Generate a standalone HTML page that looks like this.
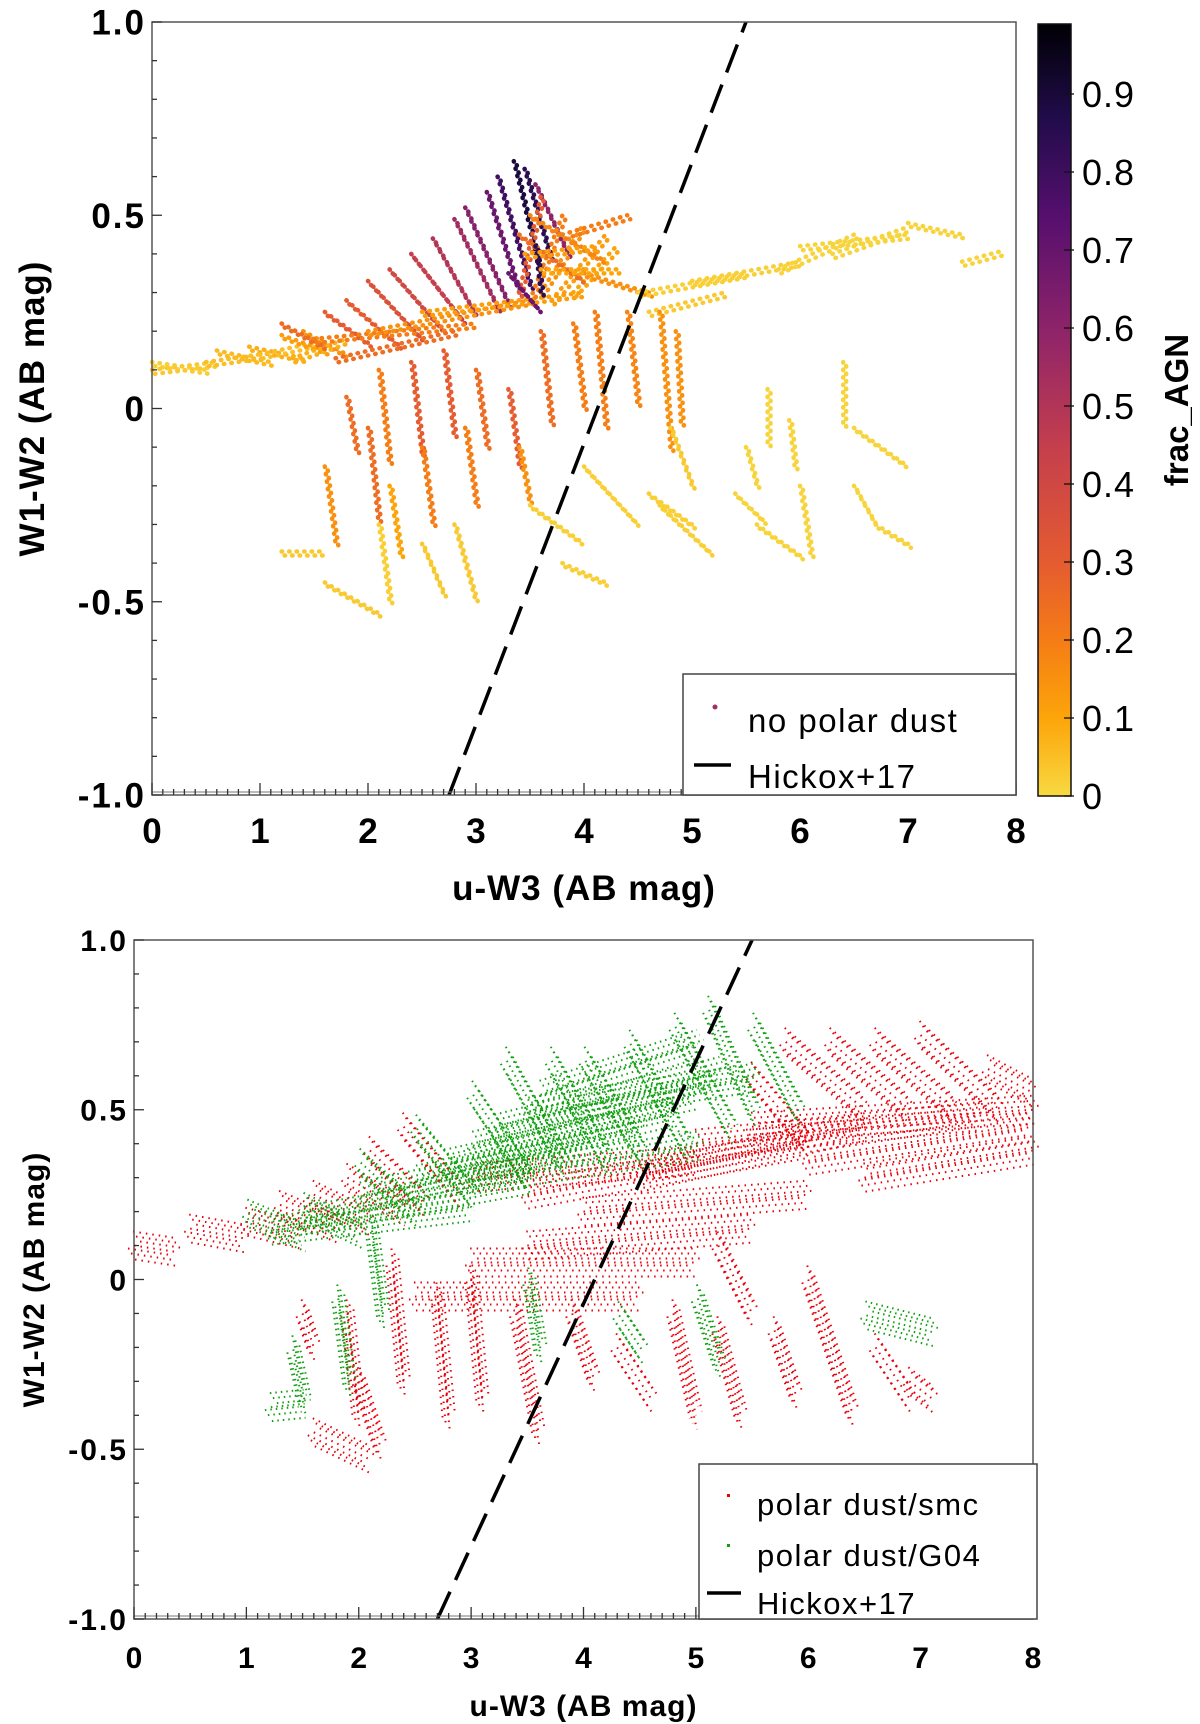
<!DOCTYPE html>
<html><head><meta charset="utf-8">
<style>
html,body{margin:0;padding:0;background:#fff;}
svg{display:block;font-family:"Liberation Sans",sans-serif;}
</style></head>
<body>
<svg id="fig" width="1200" height="1724" viewBox="0 0 1200 1724" xmlns="http://www.w3.org/2000/svg">
<defs>
<linearGradient id="cbg" x1="0" y1="1" x2="0" y2="0">
<stop offset="0" stop-color="#f8d941"/>
<stop offset="0.1" stop-color="#fca50a"/>
<stop offset="0.2" stop-color="#f57d15"/>
<stop offset="0.3" stop-color="#e55c30"/>
<stop offset="0.45" stop-color="#c53f4d"/>
<stop offset="0.6" stop-color="#8f2469"/>
<stop offset="0.75" stop-color="#560f6e"/>
<stop offset="0.88" stop-color="#200c4a"/>
<stop offset="1" stop-color="#000004"/>
</linearGradient>
</defs>
<g id="top"></g>
<g id="bot"></g>
</svg>
<script>
const topSegs = [
[0,0.12,0.5,0.10],[0,0.10,0.6,0.12],[0.5,0.12,1.0,0.14],[0.6,0.15,1.1,0.12],[0.9,0.16,1.4,0.13],[1.0,0.14,1.5,0.17],[1.2,0.19,1.6,0.15],[1.4,0.2,1.8,0.14],[1.3,0.13,1.8,0.18],
[1.2,0.22,1.6,0.16],[1.6,0.25,2.0,0.17],[1.8,0.28,2.3,0.16],[2.0,0.33,2.5,0.18],[2.2,0.36,2.7,0.2],[2.4,0.40,2.9,0.22],[2.6,0.44,3.0,0.24],[2.8,0.49,3.2,0.26],[2.9,0.52,3.3,0.27],[3.1,0.56,3.4,0.3],[3.2,0.6,3.5,0.32],[3.35,0.64,3.6,0.35],[3.45,0.62,3.7,0.38],[3.55,0.58,3.85,0.4],
[1.5,0.18,3.0,0.22],[2.0,0.2,3.5,0.28],[2.5,0.25,4.0,0.3],[1.7,0.13,2.8,0.2],
[3.4,0.3,3.6,0.55],[3.5,0.28,3.8,0.5],[3.6,0.3,4.0,0.48],[3.7,0.28,4.2,0.45],[3.9,0.3,4.3,0.42],[3.4,0.45,4.0,0.33],[3.5,0.5,4.2,0.38],[3.3,0.35,3.6,0.25],[3.55,0.42,3.6,0.3],
[3.8,0.45,4.4,0.5],[4.0,0.35,4.6,0.3],[3.45,0.4,4.1,0.42],[3.6,0.36,4.3,0.36],
[4.5,0.3,5.5,0.35],[5.0,0.33,6.0,0.38],[5.8,0.36,6.5,0.45],[6.0,0.42,7.0,0.45],[6.3,0.4,7.0,0.47],[7.0,0.48,7.5,0.45],[7.5,0.38,7.9,0.41],[4.6,0.25,5.3,0.3],
[1.8,0.03,1.9,-0.12],[2.1,0.1,2.2,-0.15],[2.4,0.12,2.5,-0.12],[2.7,0.15,2.8,-0.08],[3.0,0.1,3.1,-0.1],[3.3,0.05,3.4,-0.15],[3.6,0.2,3.7,-0.05],[3.9,0.22,4.0,0.0],[4.1,0.25,4.2,-0.05],[4.4,0.25,4.5,0.0],[4.7,0.25,4.8,-0.1],[4.85,0.2,4.9,-0.05],[2.0,-0.05,2.1,-0.3],[2.5,-0.1,2.6,-0.3],[2.9,-0.05,3.0,-0.25],[3.4,-0.1,3.5,-0.25],[1.6,-0.15,1.7,-0.35],[2.2,-0.2,2.3,-0.38],
[1.2,-0.37,1.6,-0.37],[1.6,-0.45,2.1,-0.53],[2.1,-0.3,2.2,-0.5],[2.5,-0.35,2.7,-0.48],[2.8,-0.3,3.0,-0.5],[3.5,-0.25,4.0,-0.35],[3.8,-0.4,4.2,-0.45],[4.6,-0.22,5.0,-0.3],[4.7,-0.25,5.2,-0.38],[5.4,-0.22,5.7,-0.3],[5.6,-0.3,6.0,-0.38],[5.5,-0.1,5.6,-0.2],[6.0,-0.2,6.1,-0.38],[6.4,0.12,6.4,-0.05],[6.5,-0.05,7.0,-0.15],[6.5,-0.2,6.7,-0.3],[6.7,-0.3,7.0,-0.35],[5.9,-0.03,5.95,-0.15],[5.7,0.05,5.7,-0.1],[4.0,-0.15,4.5,-0.3],[4.8,-0.05,5.0,-0.2]
];
const topFrac = [
0.02,0.03,0.05,0.06,0.08,0.05,0.12,0.15,0.08,
0.25,0.3,0.3,0.35,0.4,0.45,0.5,0.55,0.62,0.7,0.8,0.9,0.85,0.6,
0.2,0.15,0.12,0.25,
0.3,0.2,0.15,0.12,0.1,0.25,0.18,0.7,0.85,
0.2,0.15,0.12,0.1,
0.02,0.02,0.01,0.01,0.01,0.01,0.01,0.03,
0.25,0.2,0.3,0.3,0.25,0.3,0.25,0.2,0.2,0.18,0.15,0.15,0.25,0.2,0.2,0.15,0.15,0.1,
0.03,0.03,0.02,0.03,0.03,0.02,0.02,0.02,0.02,0.01,0.01,0.01,0.01,0.01,0.01,0.01,0.01,0.01,0.01,0.02,0.03
];
const greenSegs = [
[1.0,0.2,1.5,0.13],[1.5,0.22,2.0,0.14],[2.0,0.35,2.5,0.2],[2.5,0.45,3.0,0.25],[3.0,0.55,3.5,0.3],[3.3,0.65,3.8,0.35],[3.7,0.65,4.2,0.35],[4.0,0.65,4.5,0.38],[4.4,0.7,4.9,0.4],[4.8,0.75,5.3,0.45],[5.1,0.8,5.5,0.5],[5.5,0.75,5.9,0.5],
[2.5,0.3,4.5,0.45],[2.0,0.25,4.0,0.4],[3.0,0.4,5.0,0.55],[3.5,0.5,5.5,0.6],[1.5,0.18,3.5,0.3],[2.8,0.35,4.8,0.5],[3.2,0.45,5.2,0.62],[3.0,0.3,5.0,0.4],[3.6,0.55,5.0,0.7],[1.2,0.15,3.0,0.22],
[1.4,-0.2,1.5,-0.35],[1.8,-0.05,1.9,-0.3],[2.1,0.15,2.2,-0.1],[3.5,0.0,3.6,-0.2],[4.3,-0.1,4.5,-0.2],[5.0,-0.05,5.2,-0.25],[6.5,-0.1,7.1,-0.15],[1.2,-0.37,1.5,-0.36]
];
const redSegs = [
[0,0.1,0.4,0.08],[0.5,0.15,1.0,0.12],[1.0,0.17,1.5,0.13],[1.3,0.22,1.8,0.15],[1.6,0.25,2.1,0.17],[1.9,0.3,2.4,0.2],[2.1,0.38,2.6,0.22],[2.4,0.45,2.9,0.25],
[3.0,0.3,5.0,0.35],[3.5,0.25,6.0,0.4],[4.5,0.3,6.5,0.45],[5.5,0.45,8.0,0.5],[5.8,0.7,6.5,0.5],[6.2,0.7,6.9,0.5],[6.6,0.7,7.3,0.5],[7.0,0.72,7.7,0.5],[7.6,0.62,8.0,0.55],[5.5,0.6,6.0,0.4],[6.0,0.35,8.0,0.45],[6.5,0.3,8.0,0.38],[4.0,0.2,6.0,0.25],[3.5,0.1,5.5,0.15],[3.0,0.05,5.0,0.05],[2.5,-0.05,4.5,-0.05],[5.0,0.4,7.5,0.48],
[1.6,-0.45,2.1,-0.53],[1.9,-0.1,2.0,-0.4],[2.3,0.05,2.4,-0.3],[2.7,-0.05,2.8,-0.4],[3.0,0.0,3.1,-0.35],[3.4,-0.1,3.6,-0.45],[3.9,-0.1,4.1,-0.3],[4.3,-0.2,4.6,-0.35],[4.8,-0.1,5.0,-0.4],[5.2,-0.15,5.4,-0.4],[5.7,-0.15,5.9,-0.35],[6.2,-0.2,6.4,-0.4],[6.6,-0.2,6.9,-0.35],[6.9,-0.3,7.1,-0.35],[1.5,-0.1,1.6,-0.2],[2.0,-0.3,2.2,-0.5],[6.0,0.0,6.2,-0.2],[5.2,0.1,5.5,-0.1]
];
const xTicks = [0,1,2,3,4,5,6,7,8];
const yTicks = [1.0,0.5,0,-0.5,-1.0];
const yTickLabels = ["1.0","0.5","0","-0.5","-1.0"];
const cbTicks = [0,0.1,0.2,0.3,0.4,0.5,0.6,0.7,0.8,0.9];
const cbLabels = ["0","0.1","0.2","0.3","0.4","0.5","0.6","0.7","0.8","0.9"];
const hickoxX = [2.75,5.5];
const hickoxY = [-1,1];
const hickoxXb = [2.7,5.5];

const NS="http://www.w3.org/2000/svg";
function mk(parent,tag,attrs){const e=document.createElementNS(NS,tag);for(const k in attrs)e.setAttribute(k,attrs[k]);parent.appendChild(e);return e;}
const stops=[[0,[248,217,65]],[0.1,[252,165,10]],[0.2,[245,125,21]],[0.3,[229,92,48]],[0.45,[197,63,77]],[0.6,[143,36,105]],[0.75,[86,15,110]],[0.88,[32,12,74]],[1,[0,0,4]]];
function cmap(v){v=Math.max(0,Math.min(1,v));for(let i=1;i<stops.length;i++){if(v<=stops[i][0]){const a=stops[i-1],b=stops[i];const t=(v-a[0])/(b[0]-a[0]);const c=a[1].map((q,j)=>Math.round(q+(b[1][j]-q)*t));return `rgb(${c[0]},${c[1]},${c[2]})`;}}return "#000";}

function panel(g,L,T,R,B,opt){
  const sx=x=>L+(R-L)*x/8, sy=y=>B-(B-T)*(y+1)/2;
  const marks=mk(g,'g',{});
  
  
  opt.draw(marks,sx,sy);
  const hl=mk(g,'line',{x1:sx(opt.hx[0]),y1:sy(hickoxY[0]),x2:sx(opt.hx[1]),y2:sy(hickoxY[1]),stroke:'#000','stroke-width':3.5,'stroke-dasharray':'30 13'});
  
  
  const fr=mk(g,'rect',{x:L,y:T,width:R-L,height:B-T,fill:'none',stroke:'#555','stroke-width':1.5});
  
  
  mk(g,'line',{x1:L,y1:B-3,x2:R,y2:B-3,stroke:'#777','stroke-width':1});
  for(let i=0;i<=80;i++){const x=sx(i/10);mk(g,'line',{x1:x,y1:B,x2:x,y2:B-(i%10==0?12:6),stroke:'#333','stroke-width':1.3});}
  for(let i=0;i<=20;i++){const y=sy(-1+i/10);mk(g,'line',{x1:L,y1:y,x2:L+(i%5==0?10:5),y2:y,stroke:'#333','stroke-width':1.3});}
  xTicks.forEach(v=>{const t=mk(g,'text',{x:sx(v),y:opt.xly,'text-anchor':'middle','font-size':opt.fs,'font-weight':'bold'});t.textContent=v;
    
    });
  yTicks.forEach((v,i)=>{const t=mk(g,'text',{x:L-6,y:sy(v)+opt.fs*0.36,'text-anchor':'end','font-size':opt.fs,'font-weight':'bold','letter-spacing':2});t.textContent=yTickLabels[i];
    
    });
  const xt=mk(g,'text',{x:(L+R)/2,y:opt.xty,'text-anchor':'middle','font-size':opt.fs,'font-weight':'bold','letter-spacing':1});xt.textContent='u-W3 (AB mag)';
  
  
  const cy=(T+B)/2;
  const yt=mk(g,'text',{x:0,y:0,transform:`translate(${opt.ytx},${cy}) rotate(-90)`,'text-anchor':'middle','font-size':opt.fs,'font-weight':'bold','letter-spacing':1});yt.textContent='W1-W2 (AB mag)';
  
  
}

const gt=document.getElementById('top');
panel(gt,152,22,1016,795,{hx:hickoxX,fs:35,xly:843,xty:900,ytx:44,draw:(m,sx,sy)=>{
  const off=[[0,0],[3,4]];
  topSegs.forEach((s,i)=>{off.forEach(o=>{const l=mk(m,'line',{x1:sx(s[0])+o[0],y1:sy(s[1])+o[1],x2:sx(s[2])+o[0],y2:sy(s[3])+o[1],stroke:cmap(topFrac[i]),'stroke-width':4.5,'stroke-linecap':'round','stroke-dasharray':'0.5 7'});
    
    });});
}});
(function(){const g=mk(gt,'g',{});


mk(g,'rect',{x:683,y:674,width:333,height:121,fill:'#fff',stroke:'#444','stroke-width':1.5});
mk(g,'circle',{cx:715,cy:707,r:2.5,fill:'#a03060'});
let t=mk(g,'text',{x:748,y:732,'font-size':33,'letter-spacing':1.5});t.textContent='no polar dust';


mk(g,'line',{x1:694,y1:765,x2:731,y2:765,stroke:'#000','stroke-width':3.5});
t=mk(g,'text',{x:748,y:788,'font-size':33,'letter-spacing':1.5});t.textContent='Hickox+17';


const cb=mk(g,'rect',{x:1038,y:24,width:33,height:772,fill:'url(#cbg)',stroke:'#111','stroke-width':1.5});


const cs=v=>796-780*v;
cbTicks.forEach((v,i)=>{mk(gt,'line',{x1:1064,y1:cs(v),x2:1074,y2:cs(v),stroke:'#111','stroke-width':1.3});
 const tt=mk(gt,'text',{x:1082,y:cs(v)+13,'font-size':36,'letter-spacing':1});tt.textContent=cbLabels[i];
 
 });
const cl=mk(gt,'text',{x:0,y:0,transform:'translate(1188,410) rotate(-90)','text-anchor':'middle','font-size':33,'font-weight':'bold'});cl.textContent='frac_AGN';


})();

const gb=document.getElementById('bot');
panel(gb,134,940,1033,1619,{hx:hickoxXb,fs:30,xly:1668,xty:1716,ytx:44,draw:(m,sx,sy)=>{
  const off=[[0,0],[2,-9],[-3,8],[6,-4],[-6,3],[1,14],[-1,-14]];
  redSegs.forEach(s=>{off.forEach(o=>{const l=mk(m,'line',{x1:sx(s[0])+o[0],y1:sy(s[1])+o[1],x2:sx(s[2])+o[0],y2:sy(s[3])+o[1],stroke:'#e8000b','stroke-width':2,'stroke-dasharray':'1.5 5'});
    
    });});
  greenSegs.forEach(s=>{off.forEach(o=>{const l=mk(m,'line',{x1:sx(s[0])+o[0]+2,y1:sy(s[1])+o[1]+2,x2:sx(s[2])+o[0]+2,y2:sy(s[3])+o[1]+2,stroke:'#10a010','stroke-width':2,'stroke-dasharray':'1.5 4'});
    
    });});
}});
(function(){const g=mk(gb,'g',{});


mk(g,'rect',{x:699,y:1464,width:338,height:155,fill:'#fff',stroke:'#444','stroke-width':1.5});
mk(g,'rect',{x:727,y:1494,width:3,height:3,fill:'#e8000b'});
let t=mk(g,'text',{x:757,y:1515,'font-size':31,'letter-spacing':1.5});t.textContent='polar dust/smc';


mk(g,'rect',{x:727,y:1544,width:3,height:3,fill:'#10a010'});
t=mk(g,'text',{x:757,y:1566,'font-size':31,'letter-spacing':1.5});t.textContent='polar dust/G04';


mk(g,'line',{x1:707,y1:1593,x2:741,y2:1593,stroke:'#000','stroke-width':3.5});
t=mk(g,'text',{x:757,y:1614,'font-size':31,'letter-spacing':1.5});t.textContent='Hickox+17';


})();
</script>
</body></html>
